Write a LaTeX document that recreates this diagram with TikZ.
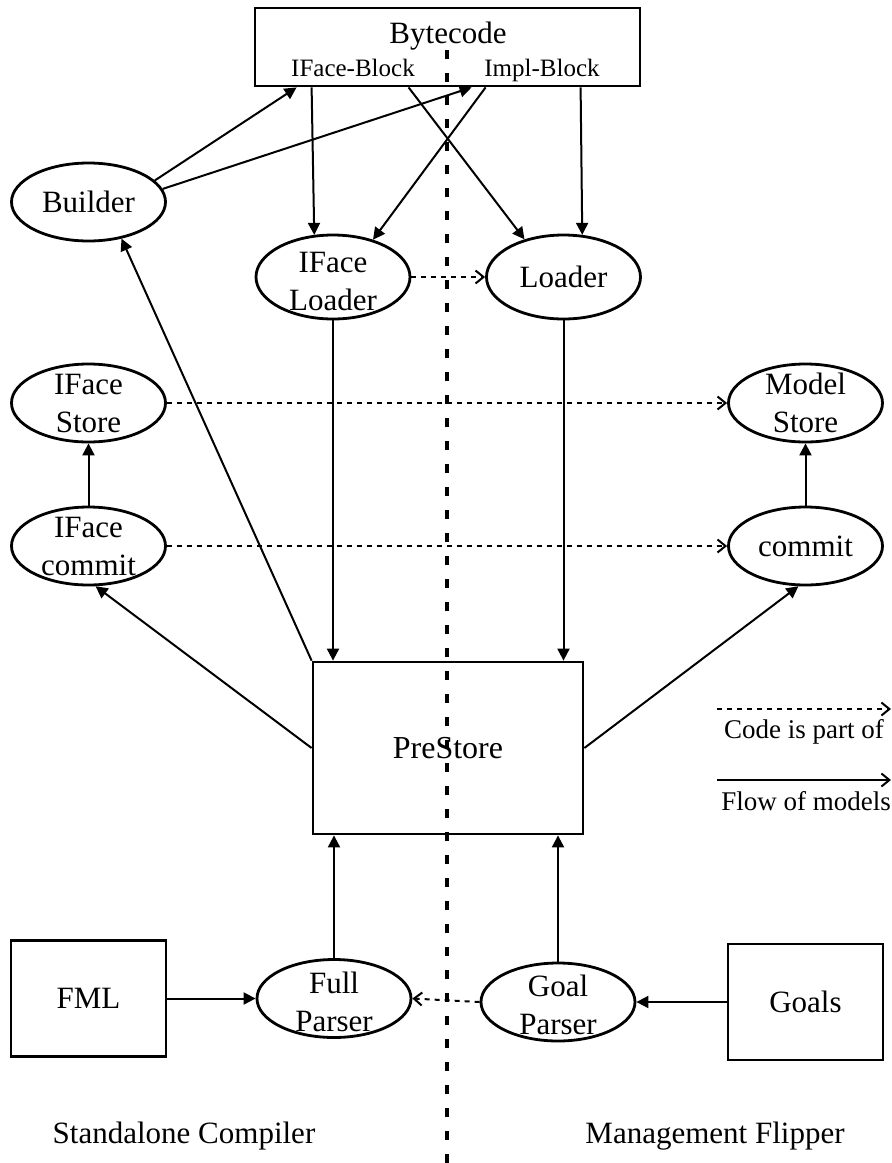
\documentclass[tikz,border=0pt]{standalone}
\usepackage{fontspec}
\setmainfont{Liberation Serif}
\usetikzlibrary{arrows.meta,shapes.geometric,calc}
\begin{document}
\begin{tikzpicture}[x=0.5pt,y=-0.5pt,
  ell/.style={ellipse,draw,line width=1.4pt,minimum width=77pt,minimum height=39pt,inner sep=0pt},
  tallell/.style={ell,minimum height=42pt},
  boxn/.style={rectangle,draw,line width=1.4pt,inner sep=0pt,font=\fontsize{15.5}{19}\selectfont},
  flow/.style={line width=1pt,-{Triangle[length=6pt,width=6pt]}},
  part/.style={line width=1pt,dash pattern=on 2.5pt off 2.5pt,-{Straight Barb[length=4pt,width=6.5pt]}},
  legflow/.style={line width=1pt,-{Straight Barb[length=4pt,width=6.5pt]}},
  lbl/.style={font=\fontsize{15.5}{19}\selectfont,align=center},
  small/.style={font=\fontsize{12.5}{15}\selectfont},
  legtext/.style={font=\fontsize{13.5}{16}\selectfont,anchor=base},
  sidetext/.style={font=\fontsize{15.5}{18}\selectfont,anchor=base},
  divider/.style={line width=2.3pt,dash pattern=on 4.5pt off 7pt}
]
\useasboundingbox (0,0) rectangle (892,1163);

% Bytecode box
\node[boxn,minimum width=192.5pt,minimum height=39pt] (bc) at (447.5,47) {};
\node[lbl,anchor=base] (bcT) at (448,43) {Bytecode};
\node[small,anchor=base] (bcIF) at (353,76) {IFace-Block};
\node[small,anchor=base] (bcIm) at (542,76) {Impl-Block};
\coordinate (bIFin) at ($(bc.south west)+(43,0)$);
\coordinate (bImplin) at ($(bc.south west)+(218,0)$);
\coordinate (bIFout) at ($(bc.south west)+(58,0)$);
\coordinate (bX1) at ($(bc.south west)+(155,0)$);
\coordinate (bX2) at ($(bc.south west)+(232,0)$);
\coordinate (bImplout) at ($(bc.south west)+(327,0)$);

% Ellipses
\node[ell,label={[lbl]center:Builder}] (builder) at (88.5,202) {};
\node[tallell,label={[lbl,yshift=-2pt]center:IFace\\Loader}] (ifl) at (333,277) {};
\node[tallell,label={[lbl]center:Loader}] (loader) at (563.5,277) {};
\node[ell,label={[lbl]center:IFace\\Store}] (ifstore) at (88.5,403) {};
\node[ell,label={[lbl]center:Model\\Store}] (mstore) at (805.5,403) {};
\node[ell,label={[lbl]center:IFace\\commit}] (ifcommit) at (88.5,546) {};
\node[ell,label={[lbl]center:commit}] (commit) at (805.5,546) {};
\node[ell,label={[lbl,yshift=-1.5pt]center:Full\\Parser}] (full) at (334,998.5) {};
\node[ell,label={[lbl,yshift=-1.5pt]center:Goal\\Parser}] (goal) at (558,1002) {};

% Boxes
\node[boxn,minimum width=135pt,minimum height=86pt,font=\fontsize{16}{19}\selectfont] (pre) at (448,748) {PreStore};
\node[boxn,minimum width=77.5pt,minimum height=58pt] (fml) at (88.5,998.5) {FML};
\node[boxn,minimum width=77.5pt,minimum height=58pt] (goals) at (805.5,1002) {Goals};

% Flow of models
\draw[flow] (builder.18) -- (bIFin);
\draw[flow] (builder.10) -- (bImplin);
\draw[flow] (bIFout) -- (ifl.114);
\draw[flow] (bX1) -- (loader.136);
\draw[flow] (bX2) -- (ifl.43);
\draw[flow] (bImplout) -- (loader.66);
\draw[flow] (ifl.south) -- (ifl.south |- pre.north);
\draw[flow] (loader.south) -- (loader.south |- pre.north);
\draw[flow] (pre.north west) -- (builder.-48);
\draw[flow] (pre.west) -- (ifcommit.-80);
\draw[flow] (pre.east) -- (commit.-100);
\draw[flow] (ifcommit.north) -- (ifstore.south);
\draw[flow] (commit.north) -- (mstore.south);
\draw[flow] (full.north) -- (full.north |- pre.south);
\draw[flow] (goal.north) -- (goal.north |- pre.south);
\draw[flow] (fml.east) -- (full.west);
\draw[flow] (goals.west) -- (goal.east);

% Code is part of
\draw[part] (ifl.east) -- (loader.west);
\draw[part] (ifstore.east) -- (mstore.west);
\draw[part] (ifcommit.east) -- (commit.west);
\draw[part] (goal.west) -- (full.east);

% Legend
\coordinate (l1a) at (717,709);
\coordinate (l1b) at (891,709);
\coordinate (l2a) at (717,780);
\coordinate (l2b) at (891,780);
\draw[part] (l1a) -- (l1b);
\draw[legflow] (l2a) -- (l2b);
\node[legtext] (legCode) at (804,738) {Code is part of};
\node[legtext] (legFlow) at (806,810) {Flow of models};

% Side labels
\node[sidetext] (sc) at (184,1143) {Standalone Compiler};
\node[sidetext] (mf) at (715,1143) {Management Flipper};

% Divider
\coordinate (dTop) at (447,50);
\coordinate (dBot) at (447,1163);
\draw[divider] (dTop) -- (dBot);
\end{tikzpicture}
\end{document}
